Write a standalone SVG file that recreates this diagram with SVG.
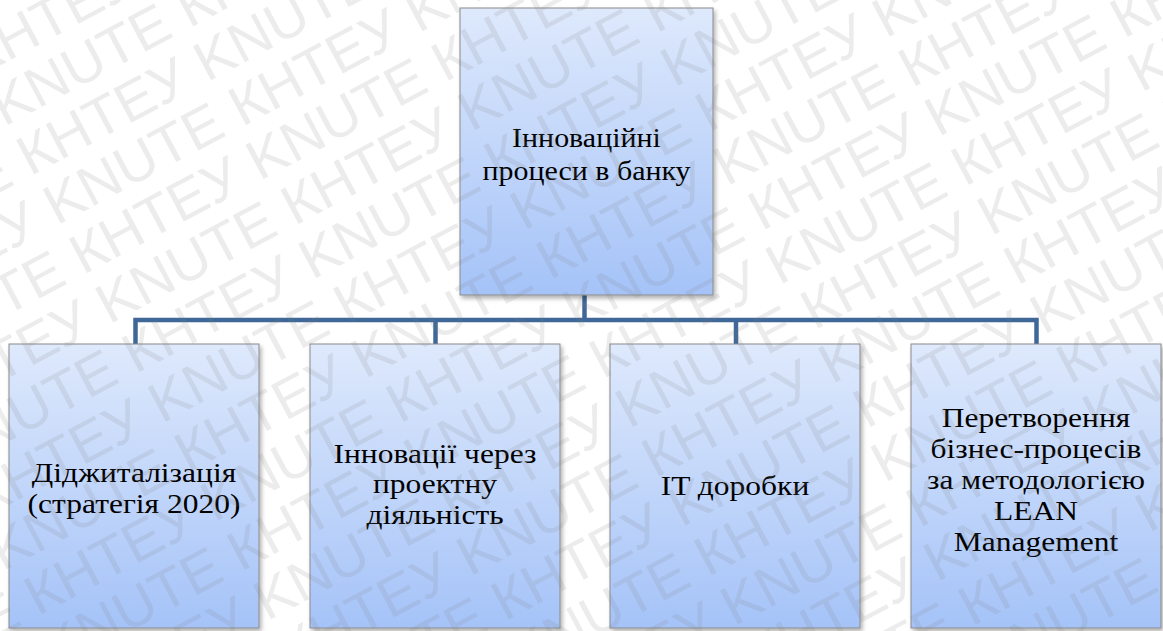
<svg xmlns="http://www.w3.org/2000/svg" width="1163" height="631" viewBox="0 0 1163 631">
  <defs>
    <linearGradient id="boxFill" x1="0" y1="0" x2="0" y2="1">
      <stop offset="0" stop-color="#dee9fc"/>
      <stop offset="1" stop-color="#a5c3f8"/>
    </linearGradient>
    <filter id="shadow" x="-5%" y="-5%" width="115%" height="115%">
      <feDropShadow dx="2" dy="3" stdDeviation="2" flood-color="#000" flood-opacity="0.3"/>
    </filter>
  </defs>
  <style>
    .box { fill: url(#boxFill); stroke: #8a8a8a; stroke-width: 1; filter: url(#shadow); }
    .lbl { font-family: "Liberation Serif", "Times New Roman", serif; font-size: 28px; fill: #000; text-anchor: middle; }
    .conn { fill: none; stroke: #3f6899; stroke-width: 4.5; stroke-linejoin: miter; stroke-linecap: butt; }
    .wm { font-family: "Liberation Sans", Arial, sans-serif; font-size: 56px; fill: #7f7f7f; fill-opacity: 0.15; }
  </style>
  <rect x="0" y="0" width="1163" height="631" fill="#ffffff"/>

  <g id="connectors">
    <path class="conn" d="M584.5,295 V320"/>
    <path class="conn" d="M135.5,344 V320 H1036.5 V344"/>
    <path class="conn" d="M435.5,320 V344"/>
    <path class="conn" d="M736,320 V344"/>
  </g>

  <g id="node-root">
    <rect class="box" x="460" y="8" width="253" height="287"/>
    <g transform="translate(586.5 0) scale(1.07 1)">
      <text class="lbl" x="0" y="147">Інноваційні</text>
      <text class="lbl" x="0" y="180">процеси в банку</text>
    </g>
  </g>

  <g id="node-digital">
    <rect class="box" x="9" y="344" width="250" height="284"/>
    <g transform="translate(134 0) scale(1.125 1)">
      <text class="lbl" x="0" y="482">Діджиталізація</text>
      <text class="lbl" x="0" y="513">(стратегія 2020)</text>
    </g>
  </g>

  <g id="node-projects">
    <rect class="box" x="310" y="344" width="250" height="284"/>
    <g transform="translate(435 0) scale(1.125 1)">
      <text class="lbl" x="0" y="463">Інновації через</text>
      <text class="lbl" x="0" y="493">проектну</text>
      <text class="lbl" x="0" y="524">діяльність</text>
    </g>
  </g>

  <g id="node-it">
    <rect class="box" x="610" y="344" width="250" height="284"/>
    <g transform="translate(735 0) scale(1.125 1)">
      <text class="lbl" x="0" y="495">IT доробки</text>
    </g>
  </g>

  <g id="node-lean">
    <rect class="box" x="911" y="344" width="250" height="284"/>
    <g transform="translate(1036 0) scale(1.125 1)">
      <text class="lbl" x="0" y="427">Перетворення</text>
      <text class="lbl" x="0" y="458">бізнес-процесів</text>
      <text class="lbl" x="0" y="489">за методологією</text>
      <text class="lbl" x="0" y="520">LEAN</text>
      <text class="lbl" x="0" y="551">Management</text>
    </g>
  </g>

  <g id="watermark" class="wm" transform="rotate(-28)">
    <text x="-466" y="58" textLength="1624" lengthAdjust="spacingAndGlyphs">КНТЕУ KNUTE КНТЕУ KNUTE КНТЕУ KNUTE КНТЕУ KNUTE</text>
    <text x="-466" y="114" textLength="1624" lengthAdjust="spacingAndGlyphs">KNUTE КНТЕУ KNUTE КНТЕУ KNUTE КНТЕУ KNUTE КНТЕУ</text>
    <text x="-466" y="170" textLength="1624" lengthAdjust="spacingAndGlyphs">КНТЕУ KNUTE КНТЕУ KNUTE КНТЕУ KNUTE КНТЕУ KNUTE</text>
    <text x="-466" y="226" textLength="1624" lengthAdjust="spacingAndGlyphs">KNUTE КНТЕУ KNUTE КНТЕУ KNUTE КНТЕУ KNUTE КНТЕУ</text>
    <text x="-466" y="282" textLength="1624" lengthAdjust="spacingAndGlyphs">КНТЕУ KNUTE КНТЕУ KNUTE КНТЕУ KNUTE КНТЕУ KNUTE</text>
    <text x="-466" y="338" textLength="1624" lengthAdjust="spacingAndGlyphs">KNUTE КНТЕУ KNUTE КНТЕУ KNUTE КНТЕУ KNUTE КНТЕУ</text>
    <text x="-466" y="394" textLength="1624" lengthAdjust="spacingAndGlyphs">КНТЕУ KNUTE КНТЕУ KNUTE КНТЕУ KNUTE КНТЕУ KNUTE</text>
    <text x="-466" y="450" textLength="1624" lengthAdjust="spacingAndGlyphs">KNUTE КНТЕУ KNUTE КНТЕУ KNUTE КНТЕУ KNUTE КНТЕУ</text>
    <text x="-466" y="506" textLength="1624" lengthAdjust="spacingAndGlyphs">КНТЕУ KNUTE КНТЕУ KNUTE КНТЕУ KNUTE КНТЕУ KNUTE</text>
    <text x="-466" y="562" textLength="1624" lengthAdjust="spacingAndGlyphs">KNUTE КНТЕУ KNUTE КНТЕУ KNUTE КНТЕУ KNUTE КНТЕУ</text>
    <text x="-466" y="618" textLength="1624" lengthAdjust="spacingAndGlyphs">КНТЕУ KNUTE КНТЕУ KNUTE КНТЕУ KNUTE КНТЕУ KNUTE</text>
    <text x="-466" y="674" textLength="1624" lengthAdjust="spacingAndGlyphs">KNUTE КНТЕУ KNUTE КНТЕУ KNUTE КНТЕУ KNUTE КНТЕУ</text>
    <text x="-466" y="730" textLength="1624" lengthAdjust="spacingAndGlyphs">КНТЕУ KNUTE КНТЕУ KNUTE КНТЕУ KNUTE КНТЕУ KNUTE</text>
    <text x="-466" y="786" textLength="1624" lengthAdjust="spacingAndGlyphs">KNUTE КНТЕУ KNUTE КНТЕУ KNUTE КНТЕУ KNUTE КНТЕУ</text>
    <text x="-466" y="842" textLength="1624" lengthAdjust="spacingAndGlyphs">КНТЕУ KNUTE КНТЕУ KNUTE КНТЕУ KNUTE КНТЕУ KNUTE</text>
    <text x="-466" y="898" textLength="1624" lengthAdjust="spacingAndGlyphs">KNUTE КНТЕУ KNUTE КНТЕУ KNUTE КНТЕУ KNUTE КНТЕУ</text>
    <text x="-466" y="954" textLength="1624" lengthAdjust="spacingAndGlyphs">КНТЕУ KNUTE КНТЕУ KNUTE КНТЕУ KNUTE КНТЕУ KNUTE</text>
    <text x="-466" y="1010" textLength="1624" lengthAdjust="spacingAndGlyphs">KNUTE КНТЕУ KNUTE КНТЕУ KNUTE КНТЕУ KNUTE КНТЕУ</text>
    <text x="-466" y="1066" textLength="1624" lengthAdjust="spacingAndGlyphs">КНТЕУ KNUTE КНТЕУ KNUTE КНТЕУ KNUTE КНТЕУ KNUTE</text>
  </g>
</svg>
